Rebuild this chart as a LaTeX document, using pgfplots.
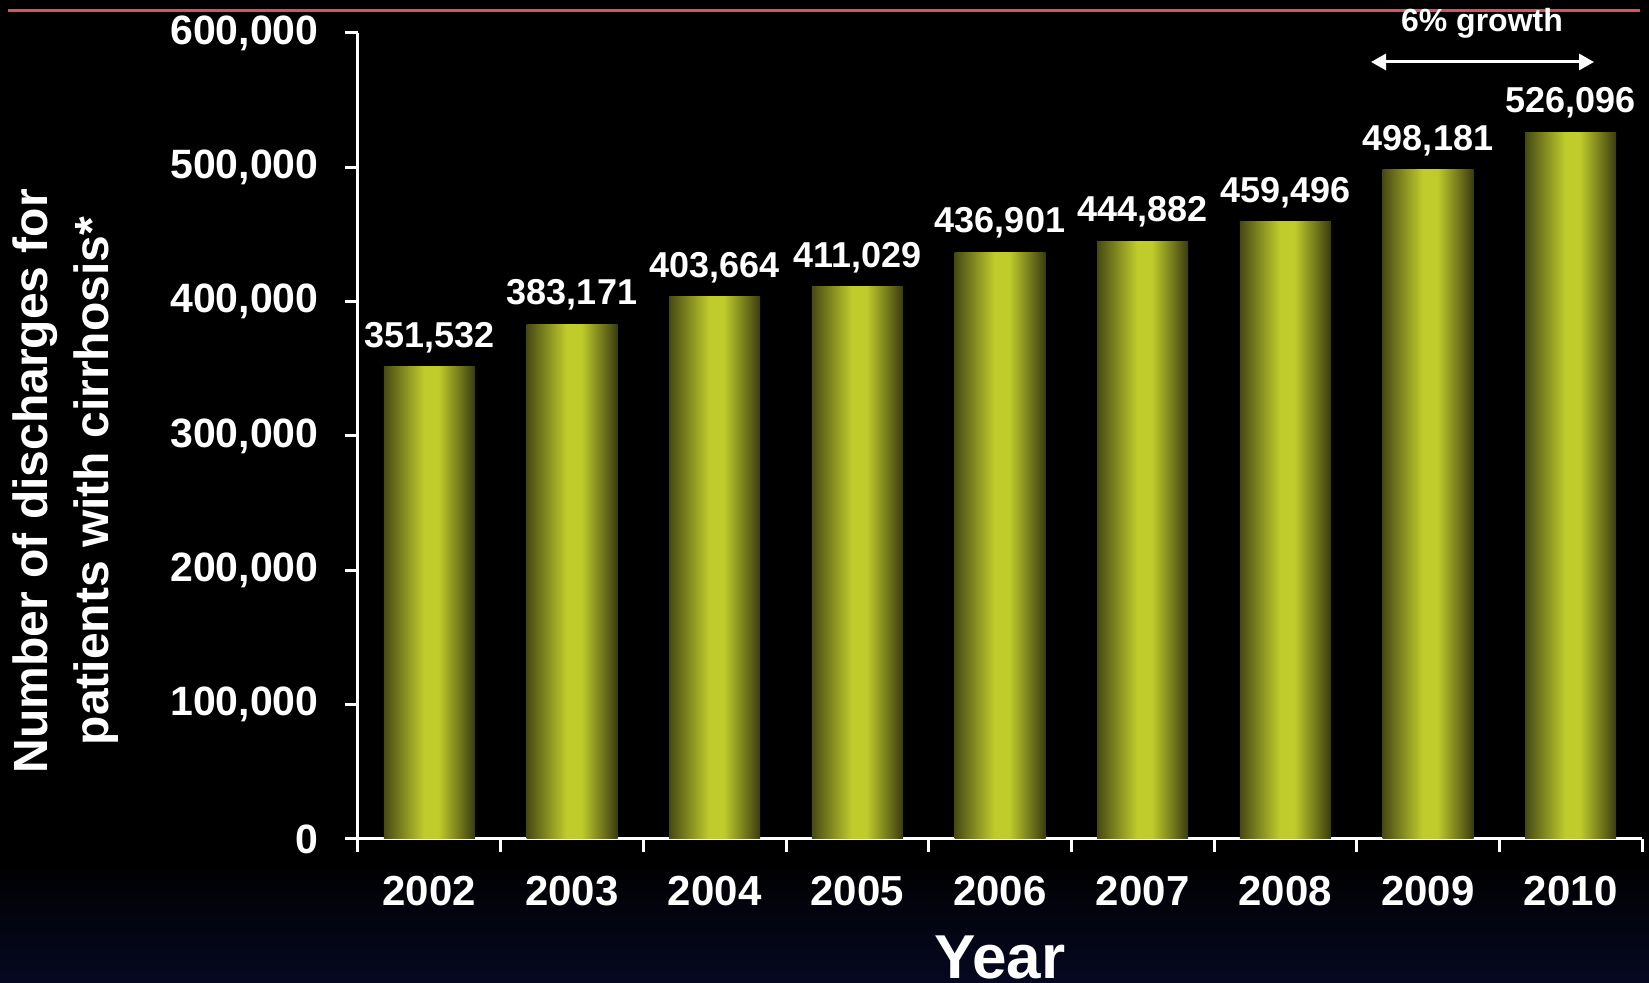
\documentclass[border=0pt]{standalone}
\usepackage{pgfplots}
\pgfplotsset{compat=1.18}
\usepackage{pgfplotstable}
\usepackage{fontspec}
\setmainfont{Liberation Sans}
\usetikzlibrary{arrows.meta}
\definecolor{barlight}{RGB}{192,204,44}
\definecolor{bardarkL}{RGB}{70,74,20}
\definecolor{bardarkR}{RGB}{58,60,16}
\definecolor{bgblue}{RGB}{6,8,34}
\definecolor{redline}{RGB}{212,84,96}
\pgfdeclarehorizontalshading{barshade}{100bp}{color(0bp)=(bardarkL); color(25bp)=(bardarkL); color(47bp)=(barlight); color(55bp)=(barlight); color(75bp)=(bardarkR); color(100bp)=(bardarkR)}

\pgfplotstableread{
x y label
0 351532 351,532
1 383171 383,171
2 403664 403,664
3 411029 411,029
4 436901 436,901
5 444882 444,882
6 459496 459,496
7 498181 498,181
8 526096 526,096
}\discharges

\begin{document}
\begin{tikzpicture}
\path[fill=black, use as bounding box] (0,0) rectangle (824.5pt,491.5pt);
\shade[top color=black, bottom color=bgblue] (0,0) rectangle (824.5pt,62pt);
\draw[redline, line width=1.5pt] (4pt,486pt) -- (820pt,486pt);
\begin{axis}[
  at={(179pt,72pt)}, anchor=south west,
  scale only axis, width=642pt, height=403pt,
  xmin=-0.5, xmax=8.5, ymin=0, ymax=600000,
  scaled y ticks=false,
  axis lines*=left,
  axis line style={white, line width=1.5pt},
  tick align=outside,
  major tick length=6.5pt, minor tick length=6.5pt,
  tick style={white, line width=1.5pt},
  xtick={0,...,8},
  xticklabels={2002,2003,2004,2005,2006,2007,2008,2009,2010},
  major x tick style={draw=none},
  minor xtick={-0.5,0.5,...,8.5},
  ytick={0,100000,200000,300000,400000,500000,600000},
  yticklabels={0,{100,000},{200,000},{300,000},{400,000},{500,000},{600,000}},
  xticklabel style={font=\fontsize{21}{24}\selectfont\bfseries, text=white, yshift=-8.7pt},
  yticklabel style={font=\fontsize{20.5}{24}\selectfont\bfseries, text=white, xshift=-9.7pt},
  xlabel={Year},
  ylabel={Number of discharges for\\patients with cirrhosis*},
  every axis x label/.style={at={(axis description cs:0.5,-0.1725)}, anchor=base, font=\fontsize{31}{34}\selectfont\bfseries, text=white},
  every axis y label/.style={at={(axis description cs:-0.2275,0.444)}, anchor=center, rotate=90, align=center, font=\fontsize{24}{30.5}\selectfont\bfseries, text=white},
  clip=false,
]
\pgfplotsinvokeforeach{0,...,8}{
\addplot[ybar, bar width=45.5pt, bar shift=0pt, draw=none, shade, shading=barshade,
  x filter/.expression={x==#1 ? x : nan},
  unbounded coords=discard,
  point meta=explicit symbolic,
  nodes near coords,
  every node near coord/.append style={anchor=base, yshift=9.7pt, font=\fontsize{18}{20}\selectfont\bfseries, text=white}]
  table[x=x, y=y, meta=label] {\discharges};
}
\end{axis}
\draw[white, line width=1.5pt, {Triangle[length=7.5pt,width=8pt]}-{Triangle[length=7.5pt,width=8pt]}] (685.5pt,460.5pt) -- (797pt,460.5pt);
\node[anchor=base, text=white, font=\fontsize{16}{18}\selectfont\bfseries, inner sep=0pt] at (741pt,475.5pt) {6\% growth};
\end{tikzpicture}
\end{document}
